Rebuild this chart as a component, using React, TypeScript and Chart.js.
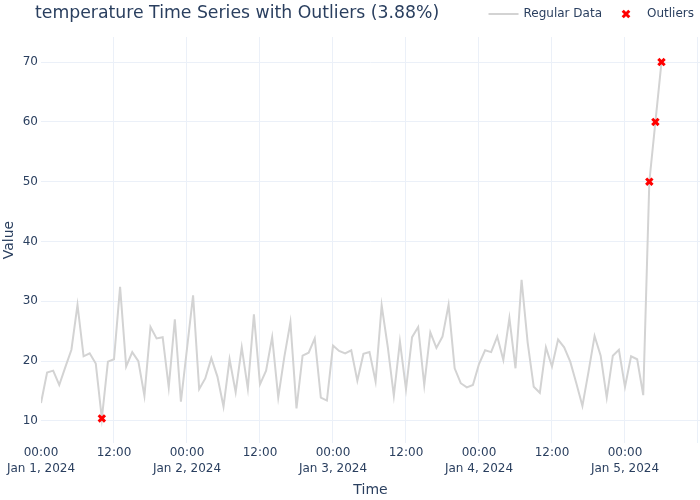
import { useEffect, useRef } from 'react';
import { Chart, registerables } from 'chart.js';

Chart.register(...registerables);

const titleText = 'temperature Time Series with Outliers (3.88%)';
const seriesNames = ['Regular Data', 'Outliers'];
const axisTitles = ['Time', 'Value'];

// hourly readings, Jan 1 2024 00:00 .. Jan 5 2024 06:00
const temperature = [
  13.0, 18.1, 18.4, 16.0, 19.0, 21.9, 29.4, 20.8, 21.3, 19.6,
  10.4, 19.9, 20.3, 32.4, 19.1, 21.5, 20.0, 14.2, 25.7, 23.8,
  24.0, 15.6, 27.0, 13.2, 22.1, 31.0, 15.3, 17.1, 20.5, 17.4,
  12.4, 20.3, 14.8, 22.3, 15.4, 27.8, 16.1, 18.4, 24.0, 13.9,
  20.7, 26.5, 12.1, 20.9, 21.4, 23.8, 13.9, 13.4, 22.6, 21.7,
  21.3, 21.8, 16.7, 21.2, 21.5, 16.6, 29.3, 22.4, 14.2, 23.3,
  15.3, 24.0, 25.7, 16.0, 24.8, 22.2, 24.1, 29.4, 18.8, 16.3,
  15.6, 16.0, 19.5, 21.8, 21.5, 24.1, 20.2, 27.2, 18.8, 33.6,
  23.1, 15.7, 14.7, 22.3, 19.1, 23.6, 22.3, 19.9, 16.3, 12.5,
  18.2, 24.2, 20.9, 13.9, 20.9, 21.9, 15.7, 20.8, 20.3, 14.3,
  50.0, 60.0, 70.0,
];
const outlierIndex = [10, 100, 101, 102];

const dayLabels = ['Jan 1, 2024', 'Jan 2, 2024', 'Jan 3, 2024', 'Jan 4, 2024', 'Jan 5, 2024'];
const clockLabels = ['00:00', '12:00'];

const FONT = '"DejaVu Sans", Verdana, sans-serif';
const TEXT = '#2a3f5f';
const GRID = '#ebf0f8';
const LINE = '#d3d3d3';
const RED = '#ff0000';

const headerPlugin = {
  id: 'header',
  afterDraw(chart: any) {
    const ctx = chart.ctx as CanvasRenderingContext2D;
    ctx.save();
    ctx.fillStyle = TEXT;
    ctx.textBaseline = 'middle';
    ctx.textAlign = 'left';
    ctx.font = `17.3px ${FONT}`;
    ctx.fillText(titleText, 35, 14);

    ctx.font = `12px ${FONT}`;
    const cy = 14;
    const outW = ctx.measureText(seriesNames[1]).width;
    const outX = 694 - outW;
    const markX = outX - 21;
    const regW = ctx.measureText(seriesNames[0]).width;
    const regX = markX - 24 - regW;
    const lineEnd = regX - 5;

    ctx.fillText(seriesNames[1], outX, cy);
    ctx.fillText(seriesNames[0], regX, cy);

    ctx.strokeStyle = LINE;
    ctx.lineWidth = 2;
    ctx.beginPath();
    ctx.moveTo(lineEnd - 30, cy);
    ctx.lineTo(lineEnd, cy);
    ctx.stroke();

    ctx.strokeStyle = RED;
    ctx.lineWidth = 3;
    const d = 3.3;
    ctx.beginPath();
    ctx.moveTo(markX - d, cy - d);
    ctx.lineTo(markX + d, cy + d);
    ctx.moveTo(markX + d, cy - d);
    ctx.lineTo(markX - d, cy + d);
    ctx.stroke();
    ctx.restore();
  },
};

export default function App() {
  const ref = useRef<HTMLCanvasElement | null>(null);

  useEffect(() => {
    document.body.style.margin = '0';
    const canvas = ref.current;
    if (!canvas) return;

    const chart = new Chart(canvas, {
      type: 'line',
      data: {
        datasets: [
          {
            label: seriesNames[0],
            data: temperature.map((v, i) => ({ x: i, y: v })),
            borderColor: LINE,
            backgroundColor: LINE,
            borderWidth: 2,
            pointRadius: 0,
            tension: 0,
            order: 2,
          },
          {
            type: 'scatter',
            label: seriesNames[1],
            data: outlierIndex.map((i) => ({ x: i, y: temperature[i] })),
            borderColor: RED,
            backgroundColor: RED,
            pointStyle: 'crossRot',
            pointRadius: 4.5,
            borderWidth: 3,
            order: 1,
          } as any,
        ],
      },
      options: {
        animation: false,
        responsive: false,
        devicePixelRatio: 1,
        layout: { autoPadding: false, padding: { top: 37, right: 0, bottom: 0, left: 0 } },
        plugins: {
          legend: { display: false },
          title: { display: false },
          tooltip: { enabled: false },
        },
        scales: {
          x: {
            type: 'linear',
            min: 0,
            max: 108.33,
            border: { display: false },
            grid: {
              drawTicks: false,
              lineWidth: 1,
              color: (c: any) => (c.tick && c.tick.value === 0 ? 'rgba(0,0,0,0)' : GRID),
            },
            ticks: {
              stepSize: 12,
              includeBounds: false,
              autoSkip: false,
              maxRotation: 0,
              minRotation: 0,
              padding: 2,
              color: TEXT,
              font: { family: FONT, size: 12, lineHeight: 16 / 12 },
              callback: (value: any) => {
                const h = Number(value);
                if (h % 24 === 0) return [clockLabels[0], dayLabels[h / 24]];
                if (h % 24 === 12 && h < 102) return clockLabels[1];
                return '';
              },
            },
            title: {
              display: true,
              text: axisTitles[0],
              color: TEXT,
              font: { family: FONT, size: 14, lineHeight: 1.2 },
              padding: { top: 0, bottom: 1 },
            },
            afterFit: (scale: any) => {
              scale.height = 57;
            },
          },
          y: {
            type: 'linear',
            min: 6.3,
            max: 74.2,
            border: { display: false },
            grid: { drawTicks: false, color: GRID, lineWidth: 1 },
            ticks: {
              stepSize: 10,
              includeBounds: false,
              padding: 3,
              color: TEXT,
              font: { family: FONT, size: 12 },
            },
            title: {
              display: true,
              text: axisTitles[1],
              color: TEXT,
              font: { family: FONT, size: 14, lineHeight: 1.2 },
              padding: { top: 1, bottom: 0 },
            },
            afterFit: (scale: any) => {
              scale.width = 41;
            },
          },
        },
      } as any,
      plugins: [headerPlugin],
    });

    return () => chart.destroy();
  }, []);

  return (
    <div style={{ width: 700, height: 500, background: '#fff' }}>
      <canvas ref={ref} width={700} height={500} style={{ display: 'block' }} />
    </div>
  );
}
